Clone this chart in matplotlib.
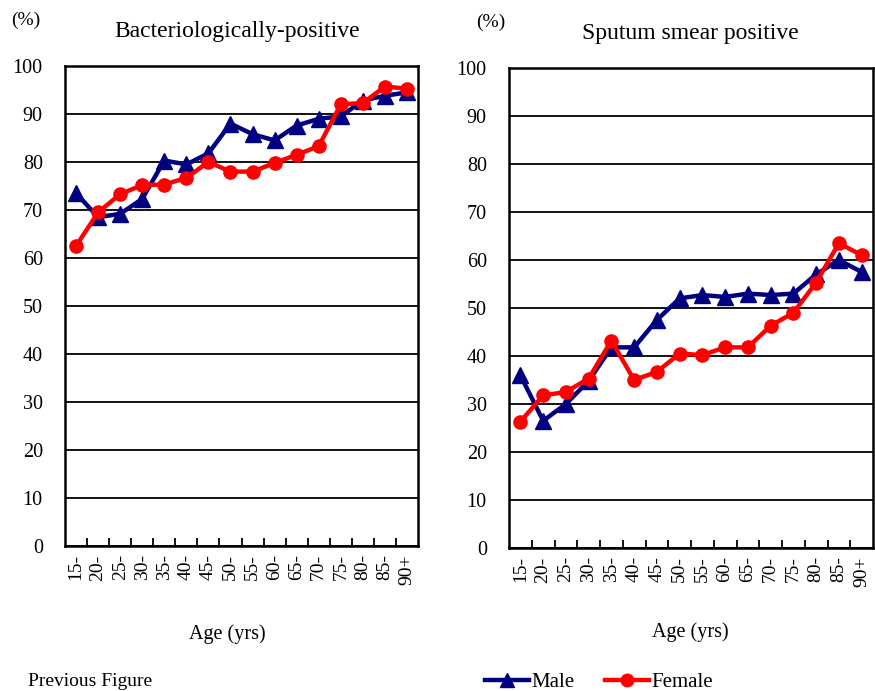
import matplotlib
matplotlib.use("Agg")
import matplotlib.pyplot as plt
from matplotlib.lines import Line2D

plt.rcParams['font.family'] = ['Liberation Serif', 'DejaVu Serif']

ages = ["15-", "20-", "25-", "30-", "35-", "40-", "45-", "50-",
        "55-", "60-", "65-", "70-", "75-", "80-", "85-", "90+"]

# Bacteriologically-positive (%)
bact_male = [73.5, 68.5, 69.2, 72.3, 80.3, 79.5, 81.8, 88.0,
             85.8, 84.5, 87.6, 89.0, 89.5, 92.8, 93.8, 94.5]
bact_female = [62.5, 69.5, 73.3, 75.2, 75.3, 76.7, 80.0, 78.0,
               78.0, 79.8, 81.5, 83.3, 92.0, 92.3, 95.7, 95.3]

# Sputum smear positive (%)
smear_male = [36.0, 26.5, 30.0, 34.8, 41.8, 41.8, 47.5, 52.0,
              52.7, 52.3, 53.0, 52.7, 53.0, 57.0, 60.0, 57.5]
smear_female = [26.3, 31.8, 32.5, 35.3, 43.2, 35.0, 36.7, 40.5,
                40.2, 41.8, 41.8, 46.3, 49.0, 55.3, 63.5, 61.0]

male_color = "#000080"
female_color = "#FF0000"

W, H = 875, 691
fig = plt.figure(figsize=(W / 100, H / 100), dpi=100)


def draw_panel(rect, male, female, title, title_xy, pct_xy, xlabel_xy):
    ax = fig.add_axes([rect[0] / W, 1 - rect[3] / H,
                       (rect[2] - rect[0]) / W, (rect[3] - rect[1]) / H])
    x = list(range(len(ages)))
    ax.plot(x, male, color=male_color, lw=3.2, marker="^", ms=11, zorder=3)
    ax.plot(x, female, color=female_color, lw=3.2, marker="o", ms=9.5, zorder=4)
    ax.set_xlim(-0.5, len(ages) - 0.5)
    ax.set_ylim(0, 100)
    ax.set_yticks(range(0, 101, 10))
    ax.yaxis.grid(True, color="black", lw=1.3)
    ax.set_axisbelow(True)
    ax.set_xticks([i + 0.5 for i in range(len(ages) - 1)])
    ax.set_xticklabels([])
    ax.set_xticks(x, minor=True)
    ax.set_xticklabels(ages, minor=True, rotation=90, fontsize=14)
    ax.tick_params(axis="x", which="major", direction="in", length=6, width=1.3)
    ax.tick_params(axis="x", which="minor", length=0, pad=6)
    ax.tick_params(axis="y", length=0, pad=16, labelsize=14.5)
    for sp in ax.spines.values():
        sp.set_linewidth(1.8)
    fig.text(title_xy[0] / W, 1 - title_xy[1] / H, title, fontsize=17,
             ha="center", va="center")
    fig.text(pct_xy[0] / W, 1 - pct_xy[1] / H, "(%)", fontsize=14,
             ha="center", va="center")
    fig.text(xlabel_xy[0] / W, 1 - xlabel_xy[1] / H, "Age (yrs)", fontsize=14.5,
             ha="center", va="center")
    return ax


draw_panel((65, 66, 418, 546), bact_male, bact_female,
           "Bacteriologically-positive", (237, 32), (26, 20), (227, 634))
draw_panel((509, 68, 873, 548), smear_male, smear_female,
           "Sputum smear positive", (690, 34), (491, 22), (690, 632))

handles = [Line2D([], [], color=male_color, lw=3.2, marker="^", ms=10),
           Line2D([], [], color=female_color, lw=3.2, marker="o", ms=9)]
fig.legend(handles, ["Male", "Female"], loc="center",
           bbox_to_anchor=(599 / W, 1 - 682 / H), ncol=2, frameon=False,
           fontsize=15, handlelength=2.1, handletextpad=0.1, columnspacing=1.5)

fig.text(28 / W, 1 - 690 / H, "Previous Figure", fontsize=14,
         ha="left", va="bottom")

fig.savefig("out.png", dpi=100)
